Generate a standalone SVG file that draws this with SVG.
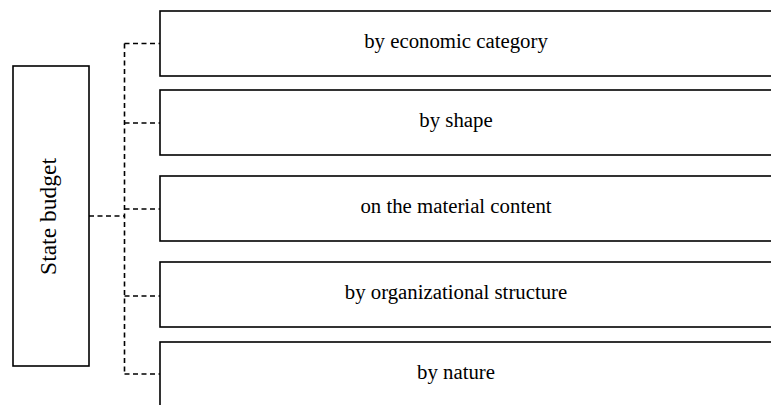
<svg xmlns="http://www.w3.org/2000/svg" width="771" height="405" viewBox="0 0 771 405">
<style>
.box{fill:#fff;stroke:#000;stroke-width:1.6}
.lbl{font-family:'Liberation Serif','Times New Roman',serif;font-size:20.8px;fill:#000;text-anchor:middle}
.big{font-size:23.5px}
.conn{fill:none;stroke:#000;stroke-width:1.6;stroke-dasharray:5,3.5}
</style>
<rect width="771" height="405" fill="#fff"/>
<g id="connectors">
<path class="conn" d="M124.5 43.5 V374"/>
<path class="conn" d="M124.5 43.5 H160"/>
<path class="conn" d="M124.5 123 H160"/>
<path class="conn" d="M124.5 209 H160"/>
<path class="conn" d="M124.5 296 H160"/>
<path class="conn" d="M124.5 374 H160"/>
<path class="conn" d="M89 216 H124.5"/>
</g>
<g id="state-budget">
<rect class="box" x="13" y="66" width="76" height="300"/>
<text class="lbl big" transform="translate(56 216.5) rotate(-90)">State budget</text>
</g>
<g id="n1">
<rect class="box" x="160" y="11" width="620" height="65"/>
<text class="lbl" x="456" y="48">by economic category</text>
</g>
<g id="n2">
<rect class="box" x="160" y="90" width="620" height="65"/>
<text class="lbl" x="456" y="127">by shape</text>
</g>
<g id="n3">
<rect class="box" x="160" y="176" width="620" height="65"/>
<text class="lbl" x="456" y="213">on the material content</text>
</g>
<g id="n4">
<rect class="box" x="160" y="262" width="620" height="65"/>
<text class="lbl" x="456" y="298.5">by organizational structure</text>
</g>
<g id="n5">
<rect class="box" x="160" y="342" width="620" height="80"/>
<text class="lbl" x="456" y="378.5">by nature</text>
</g>
</svg>
